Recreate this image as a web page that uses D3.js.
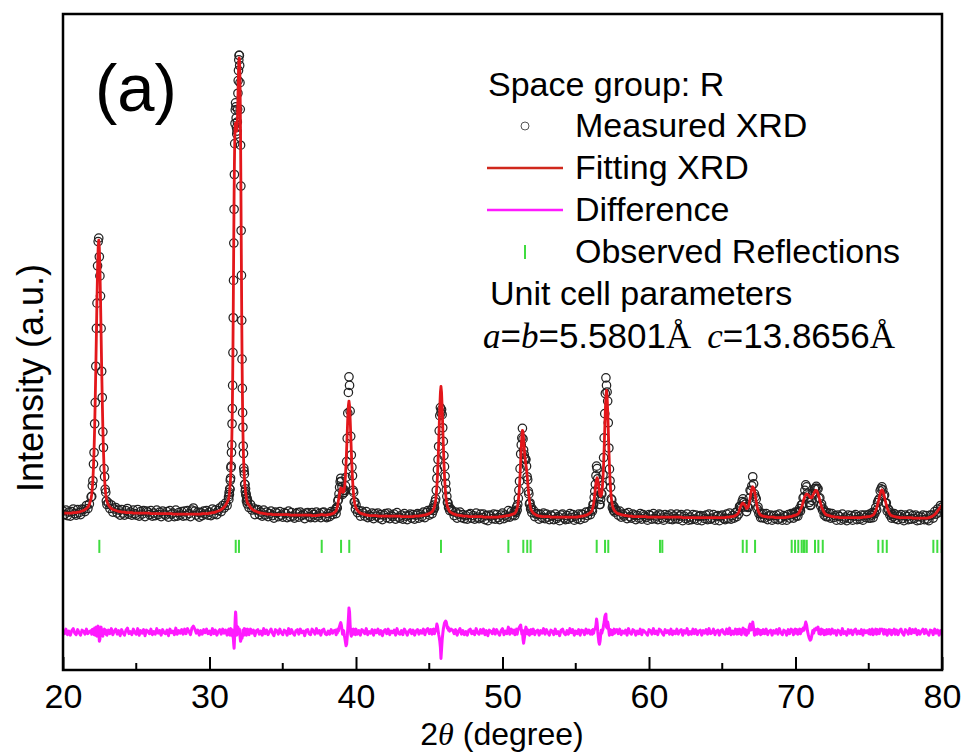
<!DOCTYPE html>
<html>
<head>
<meta charset="utf-8">
<script src="https://cdn.jsdelivr.net/npm/d3@7"></script>
<style>
  html, body { margin: 0; padding: 0; background: #fff; }
  svg { display: block; font-family: "Liberation Sans", Arial, sans-serif; }
  .tick line { stroke: #000; stroke-width: 2; }
  .tick text { font-size: 34px; fill: #000; }
</style>
</head>
<body>
<svg id="chart" width="963" height="753"></svg>
<script>
// scan segments: start angle and step (deg). peaks were scanned finer
var segFrom = [20.0, 21.92, 23.0, 31.30, 32.7, 38.60, 40.0, 45.20, 46.5, 50.80, 52.0, 56.10, 57.8, 66.00, 67.9, 69.80, 72.3, 75.00, 76.9];
var segStep = [0.1, 0.04, 0.1, 0.02, 0.1, 0.04, 0.1, 0.04, 0.1, 0.04, 0.1, 0.04, 0.1, 0.06, 0.1, 0.06, 0.1, 0.06, 0.1];

// fitted (calculated) intensity, one list per segment
var fitCounts = [
  [111,111,111,111,111,111,111,112,112,112,113,113,114,115,116,118,120,123,128],
  [140,148,160,177,202,236,280,336,398,467,535,595,637,652,637,595,535,467,398,336,280,236,202,177,160,148,140],
  [134,127,123,120,118,117,116,115,114,114, 113,113,113,112,112,112,112,112,111,111,
   111,111,111,111,111,111,111,111,111,111, 110,110,110,110,110,110,110,110,110,110,
   110,110,110,110,110,109,109,109,109,109, 109,109,109,109,109,109,109,109,109,109,
   109,109,109,109,109,110,110,110,110,110, 111,111,112,112,113,114,115,116,118,120, 123,127,132],
  [138,142,146,151,157,164,172,182,194,209, 228,252,283,322,372,434,508,590,672,745,
   802,843,868,880,884,882,876,870,868,872, 884,905,933,962,988,1005,1013,1012,1000,972,
   925,858,775,683,590,503,428,366,316,277, 247,224,206,192,181,172,165,159,153,149, 145,141,138,135,132,130],
  [127,122,119,117,115,114,113,112,111,111, 110,110,109,109,109,109,108,108,108,108,
   108,108,108,108,108,108,108,108,107,107, 107,107,107,107,107,107,107,107,107,107,
   107,107,107,106,106,106,106,107,107,108, 108,107,107,107,108,108,109,110,111],
  [114,115,119,123,129,136,141,150,157,161,160,157,152,153,153,158,168,185,209,237,269,301,324,333,324,299,267,234,205,180,160,146,136,129,124],
  [121,116,113,111,110,109,108,107,107,106, 106,106,106,106,106,105,105,105,105,105,
   105,105,105,105,105,105,105,105,105,105, 105,104,104,104,104,104,104,104,104,104,
   105,105,105,105,106,106,107,107,108,109, 110,112],
  [114,116,118,121,124,130,137,148,164,185,213,247,284,322,350,362,350,322,284,247,213,185,164,148,137,130,124,121,118,116,114],
  [112,110,109,108,107,107,106,106,105,105, 105,105,104,104,104,104,104,104,104,104,
   104,104,103,103,103,103,103,103,103,103, 103,103,103,104,104,104,105,105,106,106, 107,108,109],
  [110,111,112,114,117,121,126,135,148,164,187,214,240,264,275,272,258,241,226,214,207,198,186,172,158,146,135,127,121,117],
  [115,111,109,107,106,105,105,104,104,104, 104,104,104,103,103,103,103,103,103,103,
   103,103,103,103,103,103,103,103,103,103, 103,103,104,104,105,105,106,107,108,110, 112],
  [115,119,123,130,138,148,160,171,178,181, 177,170,161,152,146,144,146,151,163,181,
   207,240,278,314,343,354,343,313,276,238, 204,177,157,143,134,127,122,119,117,115, 114],
  [111,110,109,108,107,107,106,106,105,105, 105,104,104,104,104,104,104,104,104,104,
   104,103,103,103,103,103,103,103,103,103, 103,103,103,103,103,103,103,103,103,103,
   103,103,103,103,103,102,102,102,102,102, 102,102,102,102,102,102,102,102,102,102,
   102,102,102,102,102,102,102,102,102,102, 102,102,102,102,102,103,103,103,104,104, 105,106],
  [108,110,112,118,123,127,130,131,129,127,124,120,121,124,130,140,151,159,163,161,155,146,134,123,117,112,109,107,106,105,105],
  [104,104,103,103,103,103,103,102,102,102,102,102,102,102,102,103,103,104,104],
  [105,106,106,107,107,108,109,111,114,118, 122,126,133,139,144,147,149,148,147,144,
   142,141,142,146,149,153,156,156,154,149, 143,136,129,123,119,115,112,110,108,107, 107],
  [106,105,104,104,103,103,103,102,102,102, 102,102,102,102,102,102,102,102,102,102, 102,102,102,103,103,103,104],
  [104,104,105,105,106,107,109,112,116,121,127,134,142,149,155,157,155,149,142,134,127,121,116,112,109,107,106,105,105,104,104],
  [103,103,102,102,102,102,102,102,102,102, 102,101,101,101,101,101,101,101,101,101,
   101,101,102,103,104,106,108,111,115,119, 123,127]
];

// difference (measured - fitted)
var diffCounts = [
  [4,-3,6,-5,2,-6,3,7,-2,-5,5,-1,-6,4,2,-4,6,-3,1],
  [3,-4,5,-2,6,-5,8,-6,4,10,-8,6,12,4,-18,-14,6,10,-6,4,-8,5,-3,6,-2,4,-5],
  [-6,4,-3,7,-5,2,6,-4,3,-7, 5,-2,-6,4,8,-3,1,-5,6,-1, -4,7,-6,3,-2,5,-7,4,2,-3,
   6,-5,1,-4,7,-2,3,-6,5,-1, -3,4,-7,6,-1,2,-5,8,-4,3, -2,5,-4,6,-3,7,1,-5,8,12,
   6,-2,4,-6,3,-4,5,-1,6,-3, 2,-5,7,-3,4,-6,1,5,-4,6, -2,4,-6],
  [5,-4,6,-3,2,-6,4,-2,7,-5, 3,-6,5,-4,-8,-5,-10,-18,-26,-32, -20,0,15,30,40,34,18,5,-6,-4,
   2,6,10,6,0,4,5,6,-2,-8, -14,-18,-16,-12,-8,-10,-12,-8,-6,4, -3,5,-6,2,7,-4,3,-5,6,-2, 4,-6,3,5,-3,6],
  [-5,6,-2,4,-7,3,5,-4,2,-6, 7,-3,4,-5,1,6,-2,-7,5,3, -4,6,-1,-5,4,2,-6,7,-3,5,
   -2,-6,3,5,-4,6,-1,2,-7,4, 5,-3,-5,6,2,-4,7,-2,3,-6, 4,6,-3,-5,2,-4,5,-2,3],
  [4,-5,3,-2,6,2,8,12,16,19,14,6,-4,-2,3,-6,-12,-20,-27,-24,-10,8,26,48,40,14,-4,-8,-3,5,-4,6,-3,4,-5],
  [6,-4,3,-6,5,2,-3,7,-5,1, -2,5,-6,4,-1,6,-4,3,-7,2, 5,-3,6,-5,2,-1,4,-6,7,-2,
   -4,3,-5,6,1,-6,2,5,-3,4, -6,2,5,-4,3,-2,6,-5,4,7, -3,5],
  [-4,5,-2,6,-3,4,2,8,16,12,4,-4,-10,-18,-30,-52,-34,-16,-4,6,12,18,20,22,20,14,8,10,4,7,2],
  [6,4,-3,5,-6,2,7,-4,3,-5, 1,-6,4,6,-3,2,-5,7,-1,-4, 5,-2,6,-5,3,-7,4,2,-3,6,
   -4,5,-1,-6,3,7,-5,2,-3,10, -4,6,-2],
  [4,-5,3,-2,6,-4,2,5,8,10,12,14,6,-4,4,-14,-22,-14,-6,4,10,6,-3,5,-4,3,-6,4,-2,5],
  [-3,6,-5,2,4,-6,3,-2,7,-4, 5,-1,-6,4,2,-5,6,-3,1,-7, 4,6,-2,-5,3,-4,7,-1,5,-6,
   2,-3,5,-6,4,3,-5,6,-2,4, -4],
  [3,-4,5,-2,4,6,8,14,26,18, 2,-10,-20,-24,-18,-6,4,-2,3,6, 14,20,30,34,36,10,8,20,14,2,
   -6,-2,5,-4,3,-5,4,-3,6,-2, 4],
  [5,-3,6,-5,2,-2,4,-6,7,-1, -4,5,3,-6,2,-3,6,-5,4,1, -2,-6,5,3,-4,7,-3,2,-5,6,
   4,-2,-6,5,-1,3,-4,6,-5,2, -3,6,-4,2,5,-6,3,-2,7,-5, 1,-4,6,-3,5,-5,2,4,-6,3,
   -2,5,-4,7,-3,-1,6,-5,2,4, -6,3,5,-2,-4,6,-3,8,-5,2, -4,6],
  [-4,5,-3,6,2,-5,4,8,3,-4,5,-6,3,-2,10,16,4,6,20,8,-6,-3,5,-4,6,-2,4,-5,3,-3,5],
  [-3,6,-5,2,4,-6,3,-2,5,-4,7,-1,-5,4,2,-6,5,-3,6],
  [4,-5,3,6,-2,5,-4,3,6,-3, 5,2,8,4,12,20,14,2,-6,-12, -16,-14,-6,3,-2,6,4,8,6,10,
   -3,5,-4,6,-2,4,-5,3,-4,5, -3],
  [5,-4,6,-2,3,-6,4,2,-5,7, -3,1,-6,5,-2,4,-5,3,6,-4, 2,-3,5,-6,4,-1,3],
  [-3,5,-4,2,6,-5,3,-2,6,-4, 5,2,-3,6,4,6,2,-4,5,-3, 4,-6,3,5,-2,4,-5,3,-1,6, -4],
  [4,-5,3,6,-2,-6,5,2,-4,7, -3,5,-1,6,-5,3,-4,2,6,-3, 5,-2,-6,4,3,-5,6,-2,4,-6, 3,-4]
];

// Bragg positions of the reflections (2theta, deg)
var reflections = [22.48, 31.79, 32.01, 37.66, 38.98, 39.54, 45.80, 50.40, 51.42, 51.69, 51.92,
  56.43, 57.00, 57.22, 60.75, 60.91, 66.40, 66.67, 67.24, 69.74, 69.97, 70.19, 70.42, 70.55,
  70.62, 70.77, 71.33, 71.56, 71.86, 75.65, 75.95, 76.23, 79.41, 79.68, 79.98];

var xMajor = [20, 30, 40, 50, 60, 70, 80];
var xMinor = [25, 35, 45, 55, 65, 75];
var legendLabels = ["Measured XRD", "Fitting XRD", "Difference", "Observed Reflections"];

var diffOffset = -125;       // where the difference trace sits
var tickBand = [32, 58];     // reflection marks, in intensity units

var plot = {left: 63, right: 942, top: 14, bottom: 670};
var serif = "'Liberation Serif', 'Times New Roman', serif";

var svg = d3.select("#chart");

var x = d3.scaleLinear().domain([20, 80]).range([plot.left, plot.right]);
var y = d3.scaleLinear().domain([-200, 1100]).range([plot.bottom, plot.top]);

// flatten the segments into one scan
var scan = [];
segFrom.forEach(function(t0, s){
	if (fitCounts[s].length !== diffCounts[s].length)
		console.warn("segment " + s + " length mismatch", fitCounts[s].length, diffCounts[s].length);
	fitCounts[s].forEach(function(f, i){
		scan.push({ t: +(t0 + i*segStep[s]).toFixed(2), fit: f, diff: diffCounts[s][i] });
	});
});

svg.append("defs").append("clipPath").attr("id", "clip")
	.append("rect")
	.attr("x", plot.left).attr("y", plot.top)
	.attr("width", plot.right - plot.left).attr("height", plot.bottom - plot.top);

var g = svg.append("g").attr("clip-path", "url(#clip)");

// measured points
g.append("g").selectAll("circle")
	.data(scan)
	.enter().append("circle")
	.attr("cx", function(d){ return x(d.t); })
	.attr("cy", function(d){ return y(d.fit + d.diff); })
	.attr("r", 4.2)
	.attr("fill", "none")
	.attr("stroke", "#222")
	.attr("stroke-width", 1.25);

// fitted pattern
g.append("path")
	.datum(scan)
	.attr("fill", "none")
	.attr("stroke", "#e3171b")
	.attr("stroke-width", 2.8)
	.attr("stroke-linejoin", "round")
	.attr("d", d3.line().x(function(d){ return x(d.t); }).y(function(d){ return y(d.fit); }));

// difference curve
g.append("path")
	.datum(scan)
	.attr("fill", "none")
	.attr("stroke", "#ff1aff")
	.attr("stroke-width", 3)
	.attr("stroke-linejoin", "round")
	.attr("d", d3.line().x(function(d){ return x(d.t); }).y(function(d){ return y(diffOffset + d.diff); }));

// reflection marks
g.append("g").selectAll("line")
	.data(reflections)
	.enter().append("line")
	.attr("x1", function(d){ return x(d); }).attr("x2", function(d){ return x(d); })
	.attr("y1", y(tickBand[0])).attr("y2", y(tickBand[1]))
	.attr("stroke", "#3fdc3f")
	.attr("stroke-width", 2);

// bottom axis, ticks pointing inward
var xAxis = svg.append("g")
	.attr("transform", "translate(0," + plot.bottom + ")")
	.call(d3.axisBottom(x).tickValues(xMajor).tickSize(-13).tickPadding(14).tickFormat(d3.format("d")));
xAxis.select(".domain").remove();

svg.append("g").selectAll("line")
	.data(xMinor)
	.enter().append("line")
	.attr("x1", function(d){ return x(d); }).attr("x2", function(d){ return x(d); })
	.attr("y1", plot.bottom).attr("y2", plot.bottom - 7)
	.attr("stroke", "#000").attr("stroke-width", 2);

// frame
svg.append("rect")
	.attr("x", plot.left).attr("y", plot.top)
	.attr("width", plot.right - plot.left).attr("height", plot.bottom - plot.top)
	.attr("fill", "none").attr("stroke", "#000").attr("stroke-width", 2.5);

// axis titles (kept just inside the bottom edge)
var xt = svg.append("text")
	.attr("x", 502).attr("y", 745)
	.attr("text-anchor", "middle")
	.attr("font-size", 32);
xt.append("tspan").text("2");
xt.append("tspan").attr("font-family", serif).attr("font-style", "italic").text("θ");
xt.append("tspan").text(" (degree)");

svg.append("text")
	.attr("transform", "translate(43,378) rotate(-90)")
	.attr("text-anchor", "middle")
	.attr("font-size", 36)
	.text("Intensity (a.u.)");

svg.append("text")
	.attr("x", 95).attr("y", 111)
	.attr("font-size", 67)
	.text("(a)");

// legend
var lg = svg.append("g").attr("font-size", 34);
lg.append("text").attr("x", 488).attr("y", 96).text("Space group: R");

var rowY = [126, 168, 210, 252];
lg.selectAll("text.item")
	.data(legendLabels)
	.enter().append("text")
	.attr("class", "item")
	.attr("x", 575)
	.attr("y", function(d, i){ return rowY[i] + 11; })
	.text(function(d){ return d; });

lg.append("circle").attr("cx", 525).attr("cy", rowY[0]).attr("r", 4)
	.attr("fill", "none").attr("stroke", "#555").attr("stroke-width", 1);
lg.append("line").attr("x1", 487).attr("x2", 563).attr("y1", rowY[1]).attr("y2", rowY[1])
	.attr("stroke", "#d0281c").attr("stroke-width", 2.6);
lg.append("line").attr("x1", 487).attr("x2", 563).attr("y1", rowY[2]).attr("y2", rowY[2])
	.attr("stroke", "#ff1aff").attr("stroke-width", 2.6);
lg.append("line").attr("x1", 525).attr("x2", 525).attr("y1", rowY[3] - 7).attr("y2", rowY[3] + 7)
	.attr("stroke", "#3fdc3f").attr("stroke-width", 2);

lg.append("text").attr("x", 490).attr("y", 305).text("Unit cell parameters");

var cell = lg.append("text").attr("x", 483).attr("y", 348).attr("font-size", 35);
cell.append("tspan").attr("font-family", serif).attr("font-style", "italic").text("a");
cell.append("tspan").text("=");
cell.append("tspan").attr("font-family", serif).attr("font-style", "italic").text("b");
cell.append("tspan").text("=5.5801");
cell.append("tspan").attr("font-family", serif).text("Å");
cell.append("tspan").attr("dx", 16).attr("font-family", serif).attr("font-style", "italic").text("c");
cell.append("tspan").text("=13.8656");
cell.append("tspan").attr("font-family", serif).text("Å");
</script>
</body>
</html>
